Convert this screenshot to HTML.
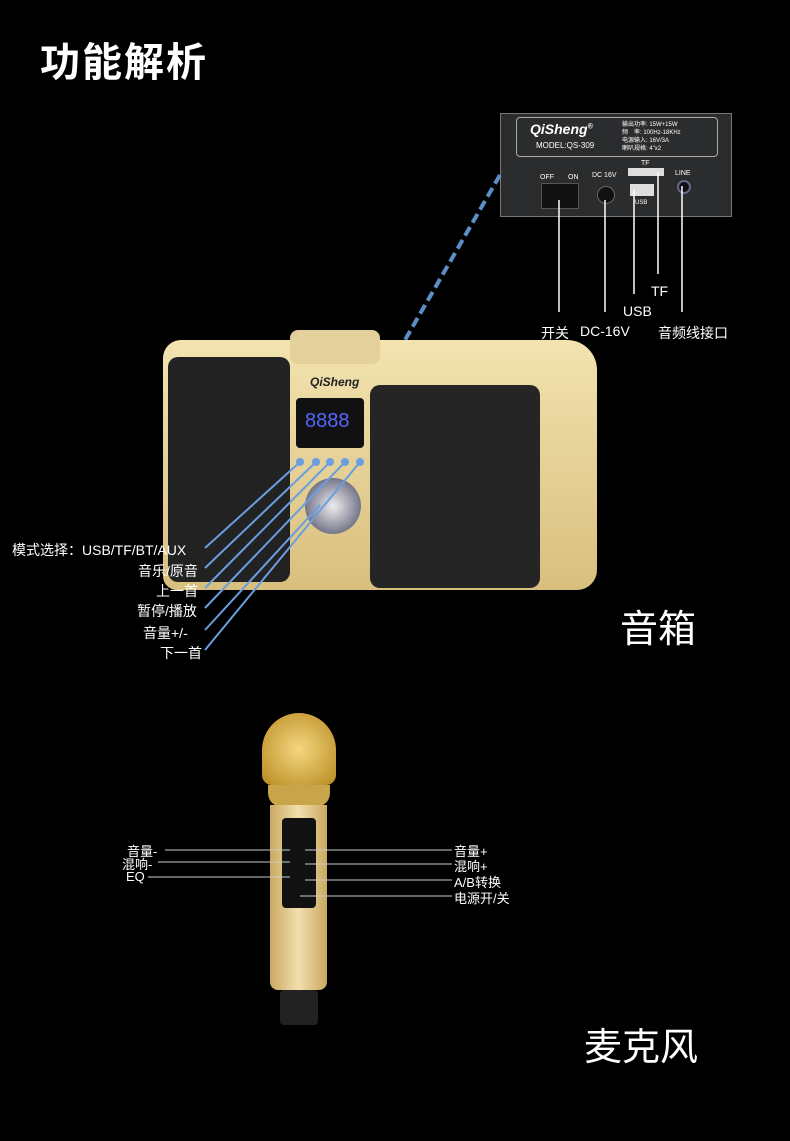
<!DOCTYPE html>
<html><head><meta charset="utf-8"><style>
body{margin:0;width:790px;height:1141px;background:#000;position:relative;overflow:hidden;font-family:"Liberation Sans","Noto Sans CJK SC",sans-serif;color:#fff}
.a{position:absolute}
.t{position:absolute;font-size:14px;color:#fff;white-space:nowrap;z-index:5}
</style></head><body>
<div class="a" style="left:40px;top:30px;font-size:40px;font-weight:bold;letter-spacing:2px">功能解析</div>

<div class="a" style="left:500px;top:113px;width:230px;height:102px;background:#2a2c2e;border:1px solid #777"></div>
<div class="a" style="left:516px;top:117px;width:200px;height:38px;border:1px solid #aaa;border-radius:4px"></div>
<div class="t" style="left:530px;top:121px;font-size:14px;font-style:italic;font-weight:bold">QiSheng<sup style="font-size:7px">®</sup></div>
<div class="t" style="left:536px;top:141px;font-size:8px">MODEL:QS-309</div>
<div class="t" style="left:622px;top:121px;font-size:6px;line-height:8px">输出功率: 15W+15W<br>频　率: 100Hz-18KHz<br>电源输入: 16V/3A<br>喇叭规格: 4"x2</div>
<div class="t" style="left:540px;top:172px;font-size:7px">OFF　　ON</div>
<div class="a" style="left:541px;top:183px;width:36px;height:24px;background:#111;border:1px solid #555"></div>
<div class="t" style="left:592px;top:172px;font-size:7px">DC 16V</div>
<div class="a" style="left:597px;top:186px;width:16px;height:16px;border-radius:50%;background:#111;border:1px solid #666"></div>
<div class="t" style="left:641px;top:160px;font-size:7px">TF</div>
<div class="a" style="left:628px;top:168px;width:36px;height:8px;background:#ddd"></div>
<div class="a" style="left:630px;top:184px;width:24px;height:12px;background:#ddd"></div>
<div class="t" style="left:635px;top:200px;font-size:6px">USB</div>
<div class="t" style="left:675px;top:170px;font-size:7px">LINE</div>
<div class="a" style="left:677px;top:180px;width:10px;height:10px;border-radius:50%;background:#111;border:2px solid #668"></div>

<svg class="a" style="left:0;top:0" width="790" height="1141">
<g stroke="#fff" stroke-width="1.5" fill="none">
<line x1="559" y1="200" x2="559" y2="312"/>
<line x1="605" y1="200" x2="605" y2="312"/>
<line x1="634" y1="190" x2="634" y2="294"/>
<line x1="658" y1="172" x2="658" y2="274"/>
<line x1="682" y1="186" x2="682" y2="312"/>
</g>
<line x1="500" y1="175" x2="405" y2="340" stroke="#5c8fc8" stroke-width="4" stroke-dasharray="10,5"/>
</svg>
<div class="t" style="left:651px;top:283px">TF</div>
<div class="t" style="left:623px;top:303px">USB</div>
<div class="t" style="left:541px;top:323px">开关</div>
<div class="t" style="left:580px;top:323px">DC-16V</div>
<div class="t" style="left:658px;top:323px">音频线接口</div>

<div class="a" style="left:163px;top:340px;width:434px;height:250px;background:linear-gradient(#f2e3b0,#d9bf7e);border-radius:18px 30px 20px 14px"></div>
<div class="a" style="left:290px;top:330px;width:90px;height:34px;background:#e4d09a;border-radius:8px"></div>
<div class="a" style="left:168px;top:357px;width:122px;height:225px;background:#222;border-radius:10px"></div>
<div class="a" style="left:370px;top:385px;width:170px;height:203px;background:#252525;border-radius:10px"></div>
<div class="t" style="left:310px;top:375px;font-size:12px;font-style:italic;font-weight:bold;color:#222">QiSheng</div>
<div class="a" style="left:296px;top:398px;width:68px;height:50px;background:#111;border-radius:4px"></div>
<div class="t" style="left:305px;top:410px;font-size:20px;color:#56f">8888</div>
<div class="a" style="left:305px;top:478px;width:56px;height:56px;border-radius:50%;background:radial-gradient(#eee,#889 60%,#345)"></div>

<svg class="a" style="left:0;top:0" width="790" height="1141">
<g stroke="#6a9ee0" stroke-width="2" fill="none">
<polyline points="205,548 300,462"/>
<polyline points="205,568 316,462"/>
<polyline points="205,588 330,462"/>
<polyline points="205,608 345,462"/>
<polyline points="205,630 320,505"/>
<polyline points="205,650 360,462"/>
</g>
<g fill="#6a9ee0"><circle cx="300" cy="462" r="4"/><circle cx="316" cy="462" r="4"/><circle cx="330" cy="462" r="4"/><circle cx="345" cy="462" r="4"/><circle cx="360" cy="462" r="4"/></g>
</svg>
<div class="t" style="left:12px;top:540px">模式选择：USB/TF/BT/AUX</div>
<div class="t" style="left:138px;top:561px">音乐/原音</div>
<div class="t" style="left:156px;top:581px">上一首</div>
<div class="t" style="left:137px;top:601px">暂停/播放</div>
<div class="t" style="left:143px;top:623px">音量+/-</div>
<div class="t" style="left:160px;top:643px">下一首</div>
<div class="a" style="left:620px;top:598px;font-size:38px">音箱</div>

<div class="a" style="left:262px;top:713px;width:74px;height:72px;border-radius:37px 37px 10px 10px;background:radial-gradient(#f4d680,#b88a20)"></div>
<div class="a" style="left:268px;top:785px;width:62px;height:22px;background:#c9a54a;border-radius:0 0 14px 14px"></div>
<div class="a" style="left:270px;top:805px;width:57px;height:185px;background:linear-gradient(90deg,#c9a960,#f2dfae,#c9a960);border-radius:0 0 8px 8px"></div>
<div class="a" style="left:282px;top:818px;width:34px;height:90px;background:#111;border-radius:4px"></div>
<div class="a" style="left:280px;top:990px;width:38px;height:35px;background:#222;border-radius:4px"></div>
<svg class="a" style="left:0;top:0" width="790" height="1141">
<g stroke="#ccc" stroke-width="1">
<line x1="165" y1="850" x2="290" y2="850"/><line x1="158" y1="862" x2="290" y2="862"/><line x1="148" y1="877" x2="290" y2="877"/>
<line x1="305" y1="850" x2="452" y2="850"/><line x1="305" y1="864" x2="452" y2="864"/><line x1="305" y1="880" x2="452" y2="880"/><line x1="300" y1="896" x2="452" y2="896"/>
</g></svg>
<div class="t" style="left:127px;top:841px;font-size:13px">音量-</div>
<div class="t" style="left:122px;top:854px;font-size:13px">混响-</div>
<div class="t" style="left:126px;top:869px;font-size:13px">EQ</div>
<div class="t" style="left:454px;top:841px;font-size:13px">音量+</div>
<div class="t" style="left:454px;top:856px;font-size:13px">混响+</div>
<div class="t" style="left:454px;top:872px;font-size:13px">A/B转换</div>
<div class="t" style="left:454px;top:888px;font-size:13px">电源开/关</div>
<div class="a" style="left:584px;top:1016px;font-size:38px">麦克风</div>
</body></html>
